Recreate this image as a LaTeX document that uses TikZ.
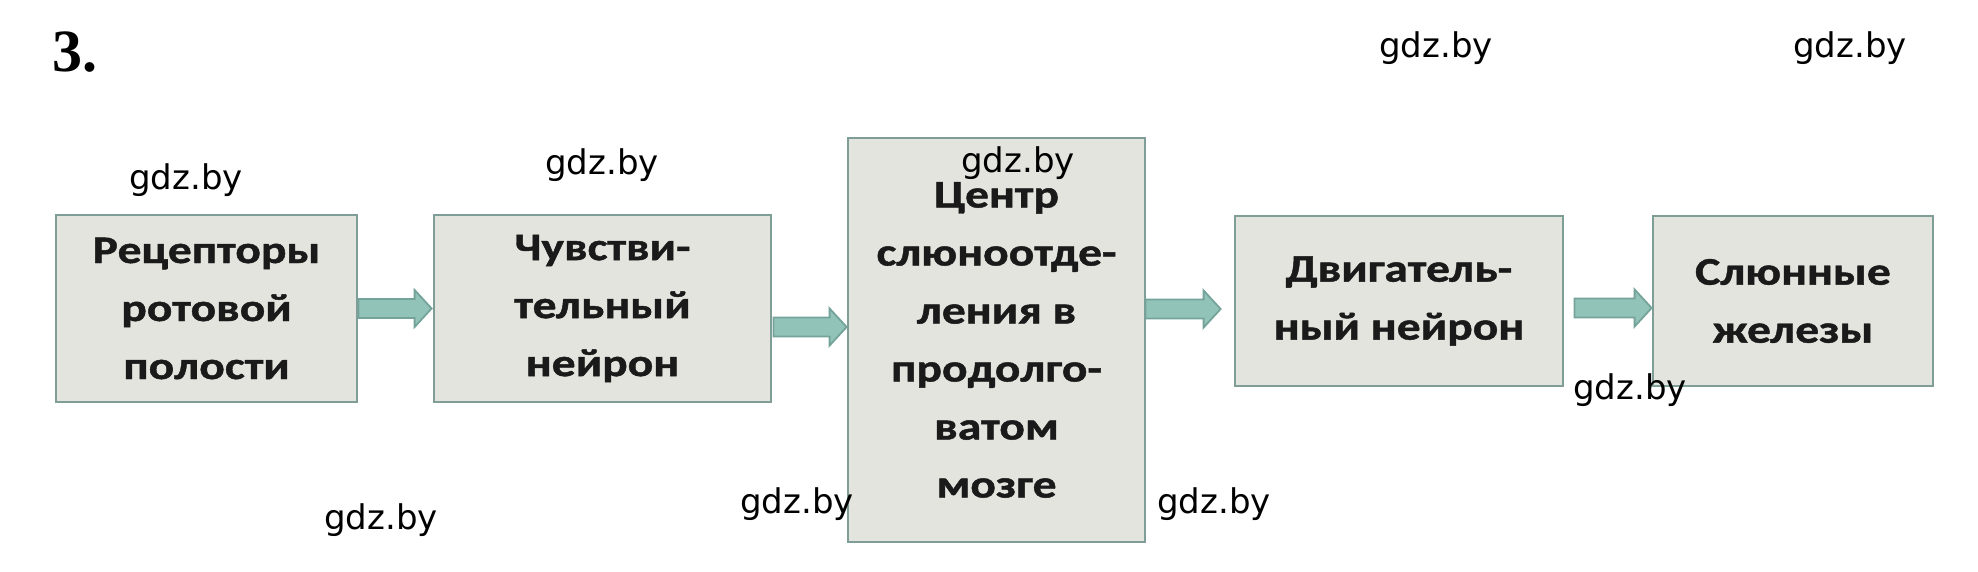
\documentclass[tikz,border=0pt]{standalone}
\usepackage{fontspec}
\usetikzlibrary{calc}
\newfontfamily\boxfont{Carlito}[UprightFont={* Bold},FakeStretch=1.22,FakeBold=1.2]
\newfontfamily\wmfont{DejaVu Sans}
\newfontfamily\numfont{Liberation Serif}[UprightFont={* Bold}]
\definecolor{boxfill}{HTML}{E3E4DE}
\definecolor{boxline}{HTML}{7F9E97}
\definecolor{arrfill}{HTML}{92C3B9}
\definecolor{arrline}{HTML}{74A39A}
\definecolor{txt}{HTML}{1A1A1A}
\tikzset{
  box/.style={draw=boxline, line width=2.8pt, fill=boxfill, inner sep=0pt, align=center,
    text=txt, font=\boxfont\fontsize{39}{58}\selectfont},
  arrowstyle/.style={draw=arrline, line width=1.8pt, fill=arrfill, line join=miter},
  wm/.style={anchor=base west, inner sep=0pt, font=\wmfont\fontsize{34}{40}\selectfont}
}
\newcommand{\barrow}[2]{%
  \draw[arrowstyle] let \p1=(#1), \p2=(#2) in
    (\x1,\y1+9.5pt) -- (\x2-17pt,\y1+9.5pt) -- (\x2-17pt,\y1+18.5pt) -- (\x2,\y1)
    -- (\x2-17pt,\y1-18.5pt) -- (\x2-17pt,\y1-9.5pt) -- (\x1,\y1-9.5pt) -- cycle;}
\begin{document}
\begin{tikzpicture}[x=1pt,y=-1pt]
\useasboundingbox[fill=white] (0,0) rectangle (1978,571);
\node[anchor=base west, inner sep=0pt, font=\numfont\fontsize{60}{62}\selectfont] (num) at (52,71) {3.};

\node[box, minimum width=301pt, minimum height=187pt] (b1) at (206.5,308.5) {Рецепторы\\ротовой\\полости};
\node[box, minimum width=337pt, minimum height=187pt] (b2) at (602.5,308.5) {Чувстви-\\тельный\\нейрон};
\node[box, minimum width=297pt, minimum height=404pt] (b3) at (996.5,340) {Центр\\слюноотде-\\ления в\\продолго-\\ватом\\мозге};
\node[box, minimum width=328pt, minimum height=170pt] (b4) at (1399,301) {Двигатель-\\ный нейрон};
\node[box, minimum width=280pt, minimum height=170pt] (b5) at (1793,301) {Слюнные\\железы};

\coordinate (a1s) at (b1.east);
\coordinate (a1e) at ($(b2.west)+(-1,0)$);
\coordinate (a2s) at ($(b2.east)+(1,18.5)$);
\coordinate (a2e) at ($(b3.west)+(0,-13)$);
\coordinate (a3s) at ($(b3.east)+(-1,-31)$);
\coordinate (a3e) at ($(b4.west)+(-13,8)$);
\coordinate (a4s) at ($(b4.east)+(10,7)$);
\coordinate (a4e) at ($(b5.west)+(0,7)$);
\barrow{a1s}{a1e}
\barrow{a2s}{a2e}
\barrow{a3s}{a3e}
\barrow{a4s}{a4e}

\node[wm] (w1) at (1379,57) {gdz.by};
\node[wm] (w2) at (1793,57) {gdz.by};
\node[wm] (w3) at (129,189) {gdz.by};
\node[wm] (w4) at (545,174) {gdz.by};
\node[wm] (w5) at (961,172) {gdz.by};
\node[wm] (w6) at (1573,399) {gdz.by};
\node[wm] (w7) at (324,529) {gdz.by};
\node[wm] (w8) at (740,513) {gdz.by};
\node[wm] (w9) at (1157,513) {gdz.by};
\end{tikzpicture}
\end{document}
